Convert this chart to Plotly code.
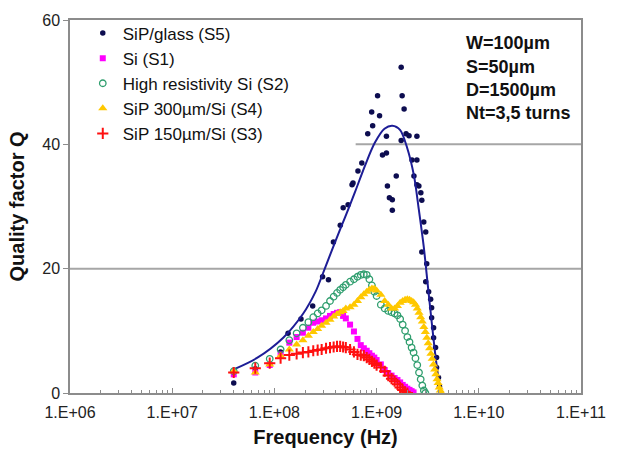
import plotly.graph_objects as go

# Measurement frequency grid (MHz) shared by the substrate series
freq_mhz = [40, 65, 90, 115, 140, 165, 190, 215, 240, 265, 290, 320, 350, 380, 410, 440, 470, 500,
            550, 600, 650, 700, 750, 800, 850, 900, 950, 1000,
            1100, 1200, 1300, 1400, 1500, 1600, 1700, 1800, 1900, 2000, 2100, 2200, 2300, 2400,
            2500, 2600, 2700, 2800, 2900, 3000, 3100, 3200, 3300, 3400, 3500, 3600, 3700, 3800,
            3900, 4000, 4100, 4200, 4300, 4400, 4500]

# Si (S1)
q_s1 = [3.0, 3.3, 4.5, 6.2, 8.1, 9.0, 9.7, 10.5, 11.3, 11.5, 11.7, 12.0, 12.4, 12.7, 12.9, 13.0, 12.4, 12.0,
        11.0, 9.9, 8.7, 7.7, 7.2, 6.8, 6.4, 6.0, 5.7, 5.3,
        4.6, 3.7, 3.2, 2.8, 2.4, 2.1, 1.7, 1.3, 1.0, 0.7, 0.5, 0.3, 0.1]

# High resistivity Si (S2)
q_s2 = [3.5, 4.4, 5.5, 7.0, 8.5, 9.6, 10.5, 11.4, 12.2, 12.8, 13.3, 14.0, 14.8, 15.5, 16.1, 16.6, 17.0, 17.4,
        17.9, 18.3, 18.7, 19.0, 19.1, 19.0, 18.3, 17.3, 16.3, 15.6,
        14.2, 13.6, 13.2, 13.0, 12.8, 12.5, 11.9, 11.0, 10.0, 9.0, 8.2, 7.3, 6.5, 5.6,
        4.5, 3.3, 2.2, 1.2, 0.4, 0.0]

# SiP 300um/Si (S4)
q_s4 = [3.5, 3.3, 4.6, 6.0, 7.0, 7.8, 8.5, 9.2, 9.8, 10.3, 10.8, 11.3, 11.8, 12.3, 12.7, 13.0, 13.2, 13.6,
        13.8, 14.2, 14.8, 15.4, 15.9, 16.3, 16.6, 16.8, 16.8, 16.5,
        15.8, 14.8, 14.2, 13.6, 13.6, 14.0, 14.5, 14.8, 15.0, 15.1, 15.0, 14.8, 14.6, 14.2,
        13.6, 12.9, 12.2, 11.5, 10.6, 9.8, 8.9, 8.0, 7.2, 6.3, 5.5, 4.6, 3.8, 3.0,
        2.2, 1.6, 0.9, 0.4, 0.0]

# SiP 150um/Si (S3)
q_s3 = [3.3, 4.0, 4.8, 5.6, 6.1, 6.3, 6.5, 6.6, 6.8, 6.9, 7.0, 7.2, 7.3, 7.4, 7.5, 7.5, 7.4, 7.3,
        7.0, 6.6, 6.2, 6.1, 6.0, 5.7, 5.4, 5.1, 4.8, 4.5,
        4.1, 3.5, 2.8, 2.3, 1.9, 1.4, 0.9, 0.5, 0.2, 0.0]

# SiP/glass (S5) measured points
s5_mhz = [40, 65, 90, 115, 136, 182, 237, 296, 338, 378, 441, 471, 526, 575, 588, 657, 717, 819,
          915, 895, 1069, 1022, 1248, 1248, 1142, 1276, 1334, 1425, 1425, 1557, 1740, 1778, 1858,
          1740, 1943, 2076, 2479, 2219, 2479, 2320, 2479, 2591, 2709, 2769, 2894, 3025, 2769,
          3093, 3025, 3233, 3379, 3455, 3455, 3612, 3612, 3775, 3859, 3859, 4034, 4125]
s5_q = [1.6, 3.9, 4.5, 6.6, 9.6, 11.9, 14.0, 18.7, 18.2, 24.3, 27.0, 29.8, 30.3, 33.5, 33.8, 35.7, 37.0, 41.7,
        43.0, 45.2, 44.6, 47.8, 41.3, 38.6, 38.3, 33.3, 31.4, 31.1, 29.4, 34.9, 52.4, 47.8, 45.7,
        40.6, 41.7, 41.4, 41.3, 37.5, 37.5, 34.9, 33.5, 33.3, 32.2, 31.0, 27.5, 25.9, 22.7,
        20.8, 17.9, 16.3, 15.1, 13.7, 12.1, 10.5, 8.9, 7.3, 5.7, 4.1, 2.5, 1.0]

# SiP/glass (S5) fitted curve
fit_mhz = [40, 67, 122, 190, 253, 316, 395, 492, 614, 767, 957, 1194, 1425, 1702, 1986, 2319,
           2590, 2894, 3162, 3455, 3775, 4217]
fit_q = [3.8, 5.6, 8.9, 12.7, 16.3, 20.3, 24.4, 28.3, 32.3, 36.5, 40.2, 42.5, 43.0, 42.3, 39.5, 35.0,
         29.5, 23.5, 17.5, 11.5, 5.8, 0.0]

# Axis tick labels
x_tickvals = [1e6, 1e7, 1e8, 1e9, 1e10, 1e11]
x_ticktext = ["1.E+06", "1.E+07", "1.E+08", "1.E+09", "1.E+10", "1.E+11"]
y_tickvals = [0, 20, 40, 60]

# Side note with the coil geometry
geometry_lines = ["W=100µm", "S=50µm", "D=1500µm", "Nt=3,5 turns"]


def hz(values_mhz, n=None):
    vals = values_mhz if n is None else values_mhz[:n]
    return [v * 1e6 for v in vals]


FONT = "Liberation Sans, Arial, sans-serif"
fig = go.Figure()

fig.add_trace(go.Scatter(
    x=hz(s5_mhz), y=s5_q, mode="markers", name="SiP/glass (S5)",
    marker=dict(symbol="circle", size=5.5, color="#0d0d50")))
fig.add_trace(go.Scatter(
    x=hz(fit_mhz), y=fit_q, mode="lines", showlegend=False, hoverinfo="skip",
    line=dict(color="#1d1d96", width=2, shape="spline", smoothing=0.8)))
fig.add_trace(go.Scatter(
    x=hz(freq_mhz, len(q_s1)), y=q_s1, mode="markers", name="Si (S1)",
    marker=dict(symbol="square", size=6, color="#ff00ff")))
fig.add_trace(go.Scatter(
    x=hz(freq_mhz, len(q_s2)), y=q_s2, mode="markers", name="High resistivity Si (S2)",
    marker=dict(symbol="circle-open", size=6.5, color="#2f9e6e", line=dict(width=1.3))))
fig.add_trace(go.Scatter(
    x=hz(freq_mhz, len(q_s4)), y=q_s4, mode="markers", name="SiP 300µm/Si (S4)",
    marker=dict(symbol="triangle-up", size=8, color="#ffc800")))
fig.add_trace(go.Scatter(
    x=hz(freq_mhz, len(q_s3)), y=q_s3, mode="markers", name="SiP 150µm/Si (S3)",
    marker=dict(symbol="cross-thin", size=8, color="#ff1010", line=dict(width=2, color="#ff1010"))))

minor_vals = [m * 10 ** e for e in range(6, 11) for m in range(2, 10)]

fig.update_xaxes(
    type="log", range=[6, 11], tickmode="array", tickvals=x_tickvals, ticktext=x_ticktext,
    showgrid=False, zeroline=False, showline=True, mirror=True, linecolor="#8c8c8c", linewidth=1.5,
    ticks="inside", ticklen=5, tickcolor="#8c8c8c", ticklabelstandoff=4,
    minor=dict(tickmode="array", tickvals=minor_vals, ticks="inside", ticklen=3, tickcolor="#8c8c8c",
               showgrid=False),
    tickfont=dict(family=FONT, size=16, color="#222"),
    title=dict(text="<b>Frequency (Hz)</b>", font=dict(family=FONT, size=20, color="#111"), standoff=10),
)
fig.update_yaxes(
    range=[0, 60], tickmode="array", tickvals=y_tickvals, showgrid=False, zeroline=False,
    showline=True, mirror=True, linecolor="#8c8c8c", linewidth=1.5,
    ticks="outside", ticklen=5, tickcolor="#8c8c8c",
    tickfont=dict(family=FONT, size=16, color="#222"),
    title=dict(text="<b>Quality factor Q</b>", font=dict(family=FONT, size=20, color="#111"), standoff=12),
)

# Horizontal reference lines at Q=20 and Q=40
fig.add_shape(type="line", xref="paper", yref="y", x0=0, x1=1, y0=20, y1=20,
              line=dict(color="#a6a6a6", width=2), layer="below")
fig.add_shape(type="line", xref="paper", yref="y", x0=0.559, x1=1, y0=40, y1=40,
              line=dict(color="#a6a6a6", width=2), layer="below")

line_y = [0.937, 0.873, 0.812, 0.751]
for txt, yy in zip(geometry_lines, line_y):
    fig.add_annotation(x=0.771, y=yy, xref="paper", yref="paper", text="<b>" + txt + "</b>",
                       showarrow=False, xanchor="left", yanchor="middle",
                       font=dict(family=FONT, size=18, color="#111"))

fig.update_layout(
    width=618, height=461,
    margin=dict(l=70, r=29, t=15, b=68),
    paper_bgcolor="white", plot_bgcolor="white",
    showlegend=True,
    legend=dict(x=0.025, y=1.012, xanchor="left", yanchor="top", bgcolor="rgba(255,255,255,0)",
                font=dict(family=FONT, size=17, color="#111"), tracegroupgap=0,
                itemsizing="trace"),
)

fig.write_html("out.html")
